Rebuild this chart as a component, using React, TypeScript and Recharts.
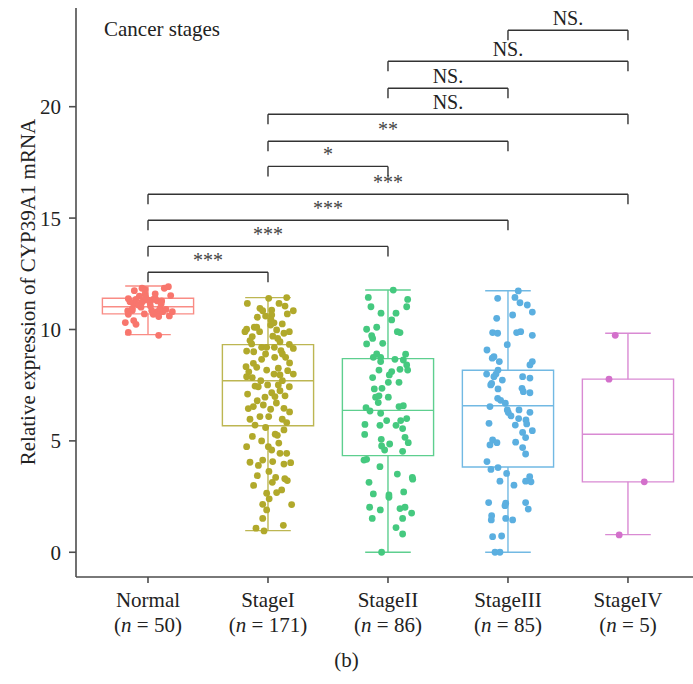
import React from "react";
import {
  ComposedChart,
  Scatter,
  XAxis,
  YAxis,
  ReferenceArea,
  ReferenceLine,
} from "recharts";

const FONT = "'Liberation Serif', 'Times New Roman', serif";

const categories = ["Normal", "StageI", "StageII", "StageIII", "StageIV"];
const counts = [50, 171, 86, 85, 5];
const pointColors = ["#F8766D", "#B1A92B", "#45C97F", "#5BAFE0", "#D370CB"];
const boxColors = ["#F98C85", "#BDB652", "#5ECF8F", "#72B9E3", "#D98AD3"];

// box stats per group: [lower whisker, Q1, median, Q3, upper whisker]
const boxStats = [
  [9.77, 10.7, 11.02, 11.4, 11.95],
  [0.97, 5.68, 7.7, 9.32, 11.43],
  [0.0, 4.34, 6.37, 8.69, 11.77],
  [0.0, 3.83, 6.58, 8.17, 11.74],
  [0.79, 3.16, 5.3, 7.77, 9.83],
];

// jittered points: [x offset from category, value]
const normalPts = [
  [0.17, 11.92], [0.136, 11.85], [-0.114, 11.74], [-0.025, 11.8], [-0.025, 11.59], [-0.072, 11.5],
  [0.189, 11.52], [-0.164, 11.38], [-0.1, 11.35], [-0.039, 11.29], [0.003, 11.32], [0.044, 11.35],
  [0.078, 11.28], [0.114, 11.28], [-0.117, 11.17], [-0.053, 11.2], [0.017, 11.2], [-0.058, 11.0],
  [-0.169, 10.83], [-0.131, 10.85], [0.031, 10.85], [0.078, 10.8], [0.122, 10.8], [0.203, 10.8],
  [-0.164, 10.68], [0.044, 10.68], [0.089, 10.58], [0.178, 10.61], [-0.189, 10.31], [-0.119, 10.4],
  [-0.1, 10.23], [-0.164, 9.87], [0.089, 9.74], [-0.02, 11.45], [0.06, 11.4], [-0.08, 11.1],
  [0.02, 11.05], [0.1, 10.95], [-0.13, 10.95], [0.15, 10.9], [-0.03, 10.7], [0.06, 11.6],
  [-0.05, 11.85], [0.11, 11.15], [-0.15, 11.25],
];

const stageIPts = [
  [0.006, 11.4], [0.156, 11.43], [-0.172, 11.17], [0.092, 11.17], [0.142, 11.05], [-0.067, 10.95],
  [-0.044, 10.84], [0.031, 10.87], [0.211, 10.84], [0.161, 10.7], [0.031, 10.65], [-0.089, 10.55],
  [0.025, 10.43], [0.119, 10.25], [-0.178, 10.01], [-0.114, 10.1], [-0.094, 10.1], [0.022, 10.2],
  [0.072, 9.98], [0.178, 9.9], [-0.192, 9.9], [-0.131, 9.68], [0.133, 9.83], [0.081, 9.6],
  [0.1, 9.45], [-0.136, 9.35], [0.178, 9.33], [-0.053, 9.2], [0.053, 9.2], [-0.011, 9.2],
  [0.211, 9.15], [-0.178, 9.03], [-0.119, 9.0], [0.108, 9.05], [-0.053, 8.66], [-0.122, 8.48],
  [0.056, 8.75], [0.147, 8.75], [-0.183, 8.33], [-0.094, 8.3], [-0.011, 8.18], [0.086, 8.26],
  [0.164, 8.15], [0.211, 8.0], [-0.178, 7.88], [-0.131, 7.84], [0.1, 7.96], [-0.108, 7.46],
  [-0.081, 7.43], [-0.003, 7.51], [0.086, 7.51], [0.178, 7.43], [0.1, 7.25], [0.031, 7.16],
  [-0.025, 6.96], [0.058, 6.99], [0.142, 7.02], [-0.039, 6.61], [-0.122, 6.54], [-0.164, 6.45],
  [0.022, 6.42], [0.133, 6.46], [-0.067, 6.09], [0.006, 6.09], [-0.15, 5.97], [0.119, 5.97],
  [0.156, 5.82], [-0.108, 5.71], [0.133, 5.49], [0.078, 5.25], [-0.053, 5.0], [-0.178, 4.74],
  [0.003, 4.74], [0.031, 4.59], [0.1, 4.44], [0.156, 4.44], [-0.044, 4.14], [-0.15, 4.04],
  [0.039, 4.07], [0.189, 4.02], [0.133, 3.96], [0.008, 3.63], [-0.089, 3.44], [0.064, 3.36],
  [0.161, 3.22], [0.036, 3.14], [0.114, 2.8], [-0.011, 2.65], [0.072, 2.68], [-0.044, 2.15],
  [0.197, 2.14], [-0.011, 1.9], [-0.044, 1.52], [-0.1, 1.08], [-0.033, 0.96], [0.128, 1.21],
  [-0.02, 10.6], [0.05, 10.3], [-0.15, 9.5], [0.04, 9.7], [-0.07, 9.9], [0.12, 8.9],
  [-0.02, 8.9], [0.18, 8.5], [-0.16, 8.1], [0.05, 8.0], [-0.06, 7.7], [0.12, 7.7],
  [-0.17, 7.1], [0.07, 6.7], [-0.09, 6.8], [0.18, 6.3], [-0.02, 5.6], [0.06, 5.3],
  [-0.13, 5.2], [0.09, 4.9], [-0.08, 3.9], [0.14, 3.3], [0.01, 2.4], [-0.12, 3.0],
];

const stageIIPts = [
  [0.044, 11.77], [-0.164, 11.44], [0.164, 11.35], [-0.142, 11.02], [0.156, 11.02], [-0.058, 10.73],
  [0.067, 10.73], [0.031, 10.43], [-0.178, 10.01], [-0.094, 10.1], [0.078, 9.9], [0.1, 9.86],
  [-0.136, 9.72], [-0.128, 9.6], [-0.044, 9.38], [-0.178, 9.35], [-0.094, 8.9], [0.147, 8.89],
  [-0.122, 8.75], [-0.061, 8.75], [-0.061, 8.56], [0.058, 8.66], [0.128, 8.63], [0.156, 8.41],
  [-0.075, 8.18], [0.1, 8.21], [0.164, 8.18], [0.031, 8.11], [0.011, 7.96], [-0.128, 7.84],
  [0.092, 7.63], [0.003, 7.63], [-0.114, 7.33], [-0.05, 7.36], [-0.103, 6.96], [-0.075, 7.02],
  [0.003, 6.96], [-0.081, 6.72], [-0.183, 6.49], [-0.15, 6.34], [-0.061, 6.24], [0.092, 6.54],
  [0.128, 6.58], [-0.011, 5.91], [0.156, 6.0], [0.106, 5.91], [-0.192, 5.74], [-0.067, 5.7],
  [0.067, 5.7], [0.122, 5.55], [-0.194, 5.29], [-0.056, 5.07], [0.142, 5.16], [0.014, 4.86],
  [0.169, 4.92], [-0.053, 4.77], [-0.028, 4.59], [0.122, 4.53], [-0.178, 4.17], [-0.2, 4.14],
  [-0.067, 3.84], [0.078, 3.51], [0.203, 3.36], [0.206, 3.28], [-0.158, 3.14], [0.131, 2.71],
  [-0.122, 2.62], [0.008, 2.57], [0.008, 2.47], [-0.153, 2.02], [-0.064, 1.9], [0.1, 1.96],
  [0.142, 2.02], [0.197, 1.76], [-0.131, 1.52], [0.122, 1.52], [0.067, 1.11], [0.122, 0.82],
  [-0.053, 0.0],
];

const stageIIIPts = [
  [0.086, 11.73], [-0.086, 11.4], [0.058, 11.44], [0.1, 11.2], [0.161, 11.1], [0.203, 10.78],
  [0.039, 10.65], [-0.094, 10.5], [-0.128, 9.86], [-0.086, 9.83], [0.072, 9.86], [0.106, 9.9],
  [0.203, 9.74], [-0.006, 9.32], [-0.175, 9.08], [-0.117, 8.78], [-0.131, 8.71], [-0.072, 8.56],
  [0.203, 8.56], [0.183, 8.41], [-0.083, 8.18], [-0.178, 8.0], [-0.1, 8.0], [-0.117, 7.88],
  [-0.136, 7.58], [-0.144, 7.51], [-0.047, 7.73], [0.122, 7.88], [0.183, 7.82], [-0.083, 7.33],
  [0.117, 7.36], [0.128, 7.21], [0.183, 7.16], [-0.086, 6.91], [-0.061, 6.82], [-0.022, 6.69],
  [-0.15, 6.54], [-0.006, 6.39], [0.003, 6.27], [0.025, 6.12], [0.092, 6.39], [0.183, 6.28],
  [0.089, 6.0], [0.15, 5.94], [0.156, 5.76], [-0.158, 5.79], [0.061, 5.71], [0.122, 5.38],
  [0.203, 5.46], [0.147, 5.15], [-0.128, 5.04], [-0.092, 4.92], [-0.15, 4.82], [0.064, 4.94],
  [0.122, 4.7], [0.147, 4.41], [-0.175, 4.07], [-0.083, 3.8], [-0.142, 3.72], [-0.011, 3.54],
  [0.181, 3.39], [0.192, 3.16], [0.147, 3.19], [-0.067, 3.19], [0.05, 3.01], [-0.161, 2.23],
  [-0.019, 2.2], [-0.025, 2.09], [0.147, 2.23], [0.169, 1.94], [-0.136, 1.64], [-0.139, 1.45],
  [-0.019, 1.52], [0.039, 1.45], [-0.128, 0.7], [-0.053, 0.73], [-0.108, 0.0], [-0.067, 0.0],
];

const stageIVPts = [[-0.106, 9.74], [-0.158, 7.77], [0.136, 3.16], [-0.073, 0.78]];

const groupPoints = [normalPts, stageIPts, stageIIPts, stageIIIPts, stageIVPts];

// significance brackets
const bracketFrom = [1, 1, 1, 1, 2, 2, 2, 3, 3, 4];
const bracketTo = [2, 3, 4, 5, 3, 4, 5, 4, 5, 5];
const bracketY = [12.57, 13.73, 14.9, 16.07, 17.32, 18.45, 19.66, 20.83, 22.04, 23.43];
const bracketLabels = ["***", "***", "***", "***", "*", "**", "NS.", "NS.", "NS.", "NS."];

const yTicks = [0, 5, 10, 15, 20];

const BOX_HALF = 0.38;
const CAP_HALF = 0.19;
const BRACKET_DROP = 0.45;

function XTick(props: any) {
  const { x, y, payload } = props;
  const i = payload.value - 1;
  return (
    <g fontFamily={FONT} fontSize={21} fill="#222">
      <text x={x} y={y + 24} textAnchor="middle">{categories[i]}</text>
      <text x={x} y={y + 49} textAnchor="middle">
        (<tspan fontStyle="italic">n</tspan> = {counts[i]})
      </text>
    </g>
  );
}

function YLabel() {
  return (
    <text
      x={28}
      y={292}
      transform="rotate(-90, 28, 292)"
      textAnchor="middle"
      dominantBaseline="central"
      fontFamily={FONT}
      fontSize={21}
      fill="#222"
    >
      Relative expression of CYP39A1 mRNA
    </text>
  );
}

export default function App() {
  const labelData = bracketLabels.map((label, i) => ({
    x: (bracketFrom[i] + bracketTo[i]) / 2,
    y: bracketY[i],
    label,
  }));

  return (
    <div style={{ position: "absolute", left: 0, top: 0, width: 693, height: 684, background: "#fff" }}>
      <ComposedChart width={693} height={684} margin={{ top: 8, right: 0, bottom: 0, left: 0 }}>
        <XAxis
          type="number"
          dataKey="x"
          domain={[0.4, 5.542]}
          ticks={[1, 2, 3, 4, 5]}
          allowDataOverflow
          height={107}
          tickSize={6}
          tickMargin={0}
          stroke="#4d4d4d"
          strokeWidth={1.6}
          tick={<XTick />}
        />
        <YAxis
          type="number"
          dataKey="y"
          domain={[-1.11, 24.43]}
          ticks={yTicks}
          allowDataOverflow
          width={76}
          tickSize={7}
          tickMargin={8}
          stroke="#4d4d4d"
          strokeWidth={1.6}
          tick={{ fontFamily: FONT, fontSize: 21, fill: "#222" }}
          label={<YLabel />}
        />

        {boxStats.map((s, i) => {
          const cx = i + 1;
          const c = boxColors[i];
          return (
            <React.Fragment key={"box" + i}>
              <ReferenceArea x1={cx - BOX_HALF} x2={cx + BOX_HALF} y1={s[1]} y2={s[3]} fill="none" stroke={c} strokeWidth={1.4} fillOpacity={0} />
              <ReferenceLine segment={[{ x: cx - BOX_HALF, y: s[2] }, { x: cx + BOX_HALF, y: s[2] }]} stroke={c} strokeWidth={1.4} />
              <ReferenceLine segment={[{ x: cx, y: s[3] }, { x: cx, y: s[4] }]} stroke={c} strokeWidth={1.4} />
              <ReferenceLine segment={[{ x: cx, y: s[0] }, { x: cx, y: s[1] }]} stroke={c} strokeWidth={1.4} />
              <ReferenceLine segment={[{ x: cx - CAP_HALF, y: s[4] }, { x: cx + CAP_HALF, y: s[4] }]} stroke={c} strokeWidth={1.4} />
              <ReferenceLine segment={[{ x: cx - CAP_HALF, y: s[0] }, { x: cx + CAP_HALF, y: s[0] }]} stroke={c} strokeWidth={1.4} />
            </React.Fragment>
          );
        })}

        {bracketY.map((y, i) => (
          <React.Fragment key={"br" + i}>
            <ReferenceLine segment={[{ x: bracketFrom[i], y }, { x: bracketTo[i], y }]} stroke="#333" strokeWidth={1.4} />
            <ReferenceLine segment={[{ x: bracketFrom[i], y }, { x: bracketFrom[i], y: y - BRACKET_DROP }]} stroke="#333" strokeWidth={1.4} />
            <ReferenceLine segment={[{ x: bracketTo[i], y }, { x: bracketTo[i], y: y - BRACKET_DROP }]} stroke="#333" strokeWidth={1.4} />
          </React.Fragment>
        ))}

        {groupPoints.map((pts, i) => (
          <Scatter
            key={"pts" + i}
            data={pts.map(([dx, v]) => ({ x: i + 1 + dx, y: v }))}
            isAnimationActive={false}
            shape={(p: any) => <circle cx={p.cx} cy={p.cy} r={3.4} fill={pointColors[i]} />}
          />
        ))}

        <Scatter
          data={labelData}
          isAnimationActive={false}
          shape={(p: any) => (
            <text
              x={p.cx}
              y={p.cy - 5}
              textAnchor="middle"
              fontFamily={FONT}
              fontSize={20}
              fill={p.payload.label === "NS." ? "#222" : "#444"}
            >
              {p.payload.label}
            </text>
          )}
        />
      </ComposedChart>
      <div style={{ position: "absolute", left: 104, top: 19, fontFamily: FONT, fontSize: 21, lineHeight: "21px", color: "#222" }}>
        Cancer stages
      </div>
      <div style={{ position: "absolute", left: 0, width: 693, top: 650, textAlign: "center", fontFamily: FONT, fontSize: 21, lineHeight: "21px", color: "#222" }}>
        (b)
      </div>
    </div>
  );
}
